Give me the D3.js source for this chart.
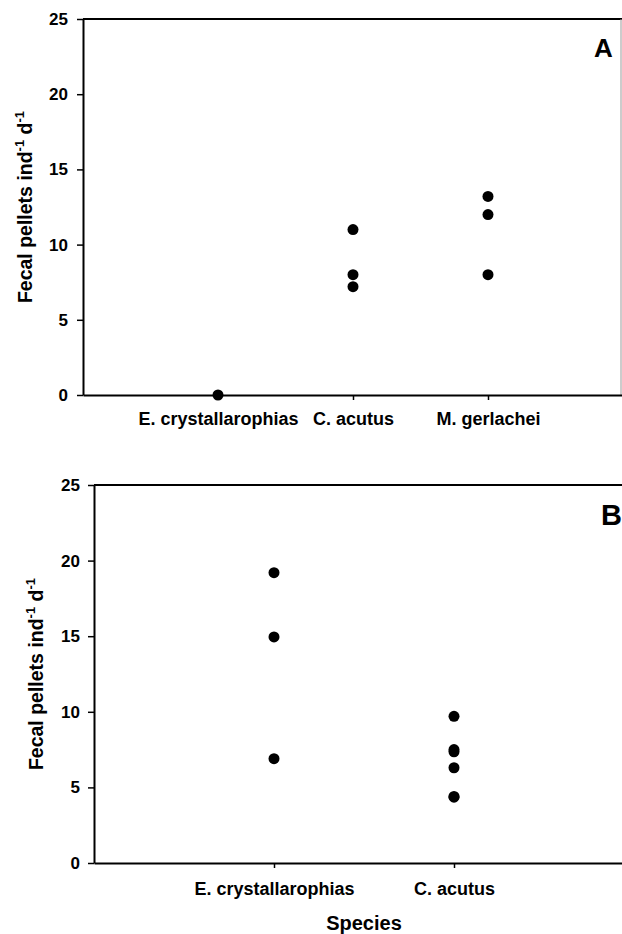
<!DOCTYPE html>
<html>
<head>
<meta charset="utf-8">
<script src="https://cdn.jsdelivr.net/npm/d3@7"></script>
<style>
    body { margin: 0; background: #fff; }
    svg  { display: block; }
    text { font-family: "Liberation Sans", Arial, sans-serif; font-weight: bold; fill: #000; }
</style>
</head>
<body>
<div id="chart"></div>
<script>
/* --------------------------------------------------------- */
/* Data.                                                     */
/* --------------------------------------------------------- */
var speciesA = ["E. crystallarophias", "C. acutus", "M. gerlachei"];
var pelletsA = [[0], [11, 8, 7.2], [13.2, 12, 8]];

var speciesB = ["E. crystallarophias", "C. acutus"];
var pelletsB = [[19.2, 14.95, 6.9], [9.7, 7.5, 7.35, 6.3, 4.4, 4.35]];

var yTicks = [0, 5, 10, 15, 20, 25];
var yTitle = ["Fecal pellets ind", "-1", " d", "-1"];
/* --------------------------------------------------------- */

var width = 622, height = 934;

var svg = d3.select("#chart").append("svg")
          .attr("width",  width)
          .attr("height", height);

/* ----------------------------------------------------------*/
/*  One panel: box top, y axis, category axis, dots, letter. */
/* ----------------------------------------------------------*/
function panel(p) {
    var x = d3.scalePoint().domain(p.species).range([p.left, p.right]).padding(1);
    var y = d3.scaleLinear().domain([0, 25]).range([p.bottom, p.top]);

    var g = svg.append("g");

    // top line of the frame
    g.append("line")
     .attr("x1", p.left).attr("x2", p.right)
     .attr("y1", p.top).attr("y2", p.top)
     .attr("stroke", "#000").attr("stroke-width", 2);

    if (p.border) {
        g.append("line")
         .attr("x1", p.border).attr("x2", p.border)
         .attr("y1", p.top).attr("y2", p.bottom)
         .attr("stroke", "#999").attr("stroke-width", 1);
    }

    var yAxis = g.append("g")
        .attr("transform", "translate(" + p.left + ",0)")
        .call(d3.axisLeft(y).tickValues(yTicks).tickSize(6).tickSizeOuter(0).tickPadding(p.yPad));

    var xAxis = g.append("g")
        .attr("transform", "translate(0," + p.bottom + ")")
        .call(d3.axisBottom(x).tickSize(5).tickSizeOuter(0).tickPadding(p.xPad));

    [yAxis, xAxis].forEach(function(a) {
        a.select(".domain").attr("stroke", "#000").attr("stroke-width", 2);
        a.selectAll(".tick line").attr("stroke", "#000").attr("stroke-width", 1.5);
        a.selectAll("text").attr("font-family", null);
    });
    yAxis.selectAll("text").attr("font-size", 17);
    xAxis.selectAll("text").attr("font-size", 18);

    // dots, one group per species
    p.values.forEach(function(vals, i) {
        g.selectAll(null)
         .data(vals).enter().append("circle")
         .attr("cx", x(p.species[i]))
         .attr("cy", function(d) { return y(d); })
         .attr("r", 5.5)
         .attr("fill", "#000");
    });

    // rotated y title with superscripts
    var t = g.append("text")
        .attr("transform", "translate(" + p.titleX + "," + ((p.top + p.bottom) / 2) + ") rotate(-90)")
        .attr("text-anchor", "middle")
        .attr("font-size", 19.5);
    yTitle.forEach(function(s, i) {
        var sup = (i % 2 == 1);
        t.append("tspan")
         .attr("font-size", sup ? 13 : 19.5)
         .attr("dy", sup ? -8 : (i > 0 ? 8 : 0))
         .text(s);
    });

    g.append("text")
     .attr("x", p.letterX).attr("y", p.letterY)
     .attr("font-size", p.letterSize)
     .text(p.letter);
}

panel({species: speciesA, values: pelletsA, left: 83, right: 623, border: 621,
       top: 19, bottom: 395, yPad: 9, xPad: 12, titleX: 32,
       letter: "A", letterX: 594, letterY: 57, letterSize: 26});

panel({species: speciesB, values: pelletsB, left: 94, right: 634, border: null,
       top: 485, bottom: 863, yPad: 8, xPad: 14, titleX: 43,
       letter: "B", letterX: 601, letterY: 525, letterSize: 29});

svg.append("text")
   .attr("x", 364).attr("y", 930)
   .attr("text-anchor", "middle")
   .attr("font-size", 20)
   .text("Species");
</script>
</body>
</html>
